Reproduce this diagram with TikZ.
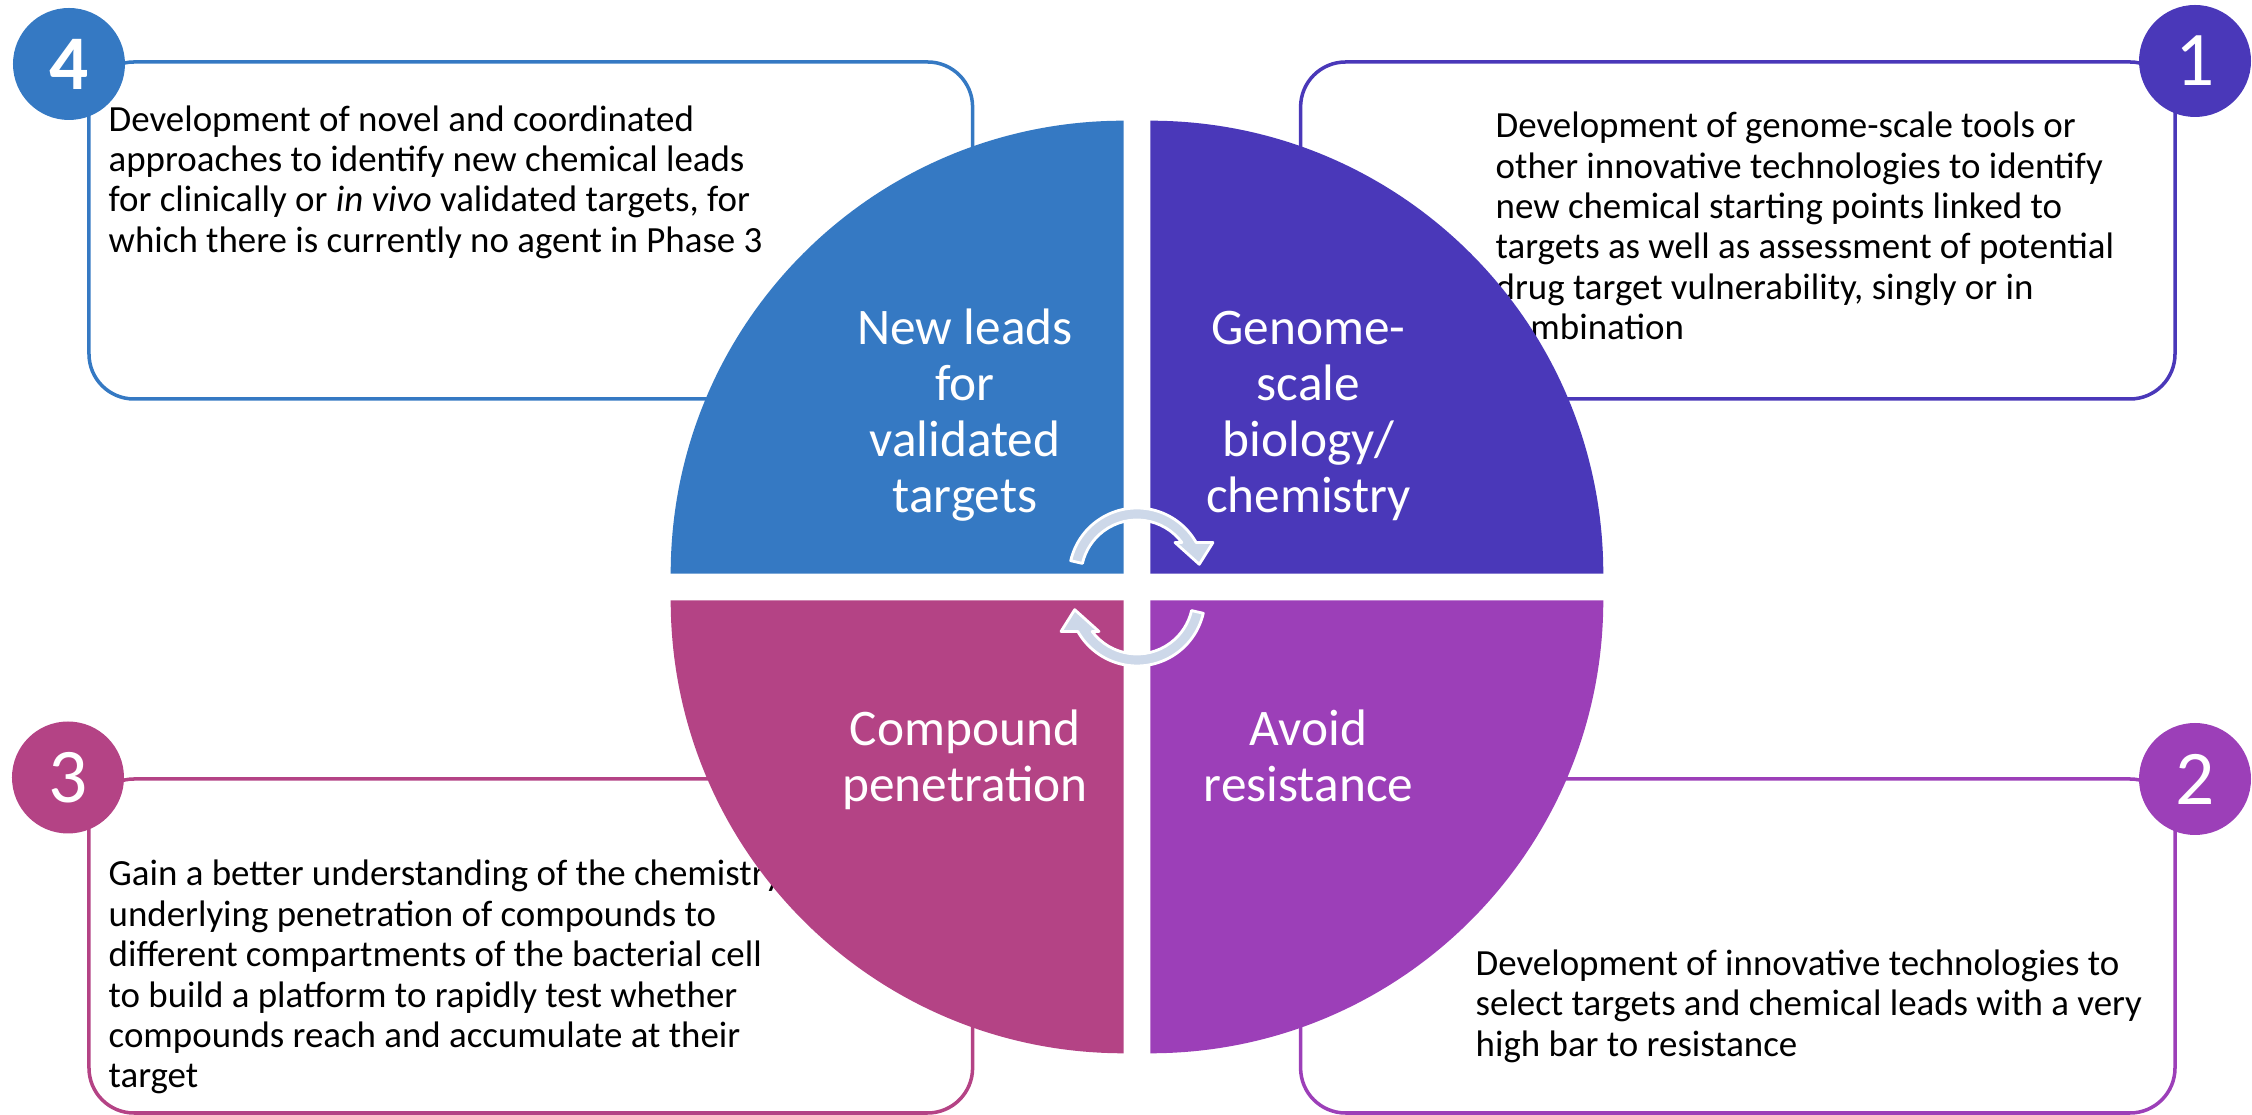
\documentclass[tikz,border=0pt]{standalone}
\usepackage{fontspec}
\setmainfont{Carlito}
\definecolor{leadblue}{RGB}{53,121,195}
\definecolor{genomeindigo}{RGB}{74,56,185}
\definecolor{resistpurple}{RGB}{156,63,184}
\definecolor{penetmagenta}{RGB}{180,67,133}
\definecolor{cyclegrey}{RGB}{205,216,233}

\begin{document}
\begin{tikzpicture}[
	goalbox/.style={line width=1pt, rounded corners=0.45cm},
	boxtext/.style={anchor=base west, align=left, inner sep=0pt, font=\fontsize{10.5}{11.5}\selectfont},
	quadlabel/.style={anchor=base, align=center, inner sep=0pt, text=white, font=\fontsize{14.6}{16}\selectfont},
	numcircle/.style={circle, minimum size=1.12cm, inner sep=0pt, text=white, font=\fontsize{22}{22}\selectfont},
	cyclearrow/.style={fill=cyclegrey, draw=white, line width=0.8pt, line join=round}]
	%\draw[help lines] (-11,-5) grid (11,5);
	\useasboundingbox (-11.37,-5.28) rectangle (11.15,5.87);

	% outer boxes
	\draw[goalbox, draw=leadblue] (-10.48,1.88) rectangle (-1.644,5.25);
	\draw[goalbox, draw=genomeindigo] (1.636,1.88) rectangle (10.38,5.25);
	\draw[goalbox, draw=penetmagenta] (-10.48,-5.26) rectangle (-1.644,-1.92);
	\draw[goalbox, draw=resistpurple] (1.636,-5.26) rectangle (10.38,-1.92);

	% texts sit on the baseline of their last line
	\node[boxtext] (leadtext) at (-10.29,3.346) {Development of novel and coordinated\\approaches to identify new chemical leads\\for clinically or \textit{in vivo} validated targets, for\\which there is currently no agent in Phase 3};
	\node[boxtext] (genometext) at (3.58,2.472) {Development of genome-scale tools or\\other innovative technologies to identify\\new chemical starting points linked to\\targets as well as assessment of potential\\drug target vulnerability, singly or in\\combination};
	\node[boxtext] (penettext) at (-10.29,-5.009) {Gain a better understanding of the chemistry\\underlying penetration of compounds to\\different compartments of the bacterial cell\\to build a platform to rapidly test whether\\compounds reach and accumulate at their\\target};
	\node[boxtext] (resisttext) at (3.38,-4.691) {Development of innovative technologies to\\select targets and chemical leads with a very\\high bar to resistance};

	% quarter circles
	\fill[leadblue] (-0.133,0.133) -- ++(0,4.53) arc (90:180:4.53) -- cycle;
	\fill[genomeindigo] (0.133,0.133) -- ++(4.53,0) arc (0:90:4.53) -- cycle;
	\fill[penetmagenta] (-0.133,-0.133) -- ++(-4.53,0) arc (180:270:4.53) -- cycle;
	\fill[resistpurple] (0.133,-0.133) -- ++(0,-4.53) arc (270:360:4.53) -- cycle;

	% cycle arrows
	\filldraw[cyclearrow] ([shift={(0,0.11)}]167:0.68) arc (167:29.5:0.68) -- (0.76,0.445) -- (0.623,0.227) -- (0.38,0.445) -- ([shift={(0,0.11)}]36.7:0.56) arc (36.7:167:0.56) -- cycle;
	\begin{scope}[rotate=180]
		\filldraw[cyclearrow] ([shift={(0,0.11)}]167:0.68) arc (167:29.5:0.68) -- (0.76,0.445) -- (0.623,0.227) -- (0.38,0.445) -- ([shift={(0,0.11)}]36.7:0.56) arc (36.7:167:0.56) -- cycle;
	\end{scope}

	\node[quadlabel] (leadlabel) at (-1.72,0.74) {New leads\\for\\validated\\targets};
	\node[quadlabel] (genomelabel) at (1.715,0.74) {Genome-\\scale\\biology/\\chemistry};
	\node[quadlabel] (penetlabel) at (-1.72,-2.15) {Compound\\penetration};
	\node[quadlabel] (resistlabel) at (1.715,-2.15) {Avoid\\resistance};

	% numbers
	\node[numcircle, fill=leadblue] (numfour) at (-10.68,5.23) {\textbf{4}};
	\node[numcircle, fill=genomeindigo] (numone) at (10.58,5.26) {1};
	\node[numcircle, fill=penetmagenta] (numthree) at (-10.69,-1.905) {3};
	\node[numcircle, fill=resistpurple] (numtwo) at (10.58,-1.92) {2};
\end{tikzpicture}
\end{document}
